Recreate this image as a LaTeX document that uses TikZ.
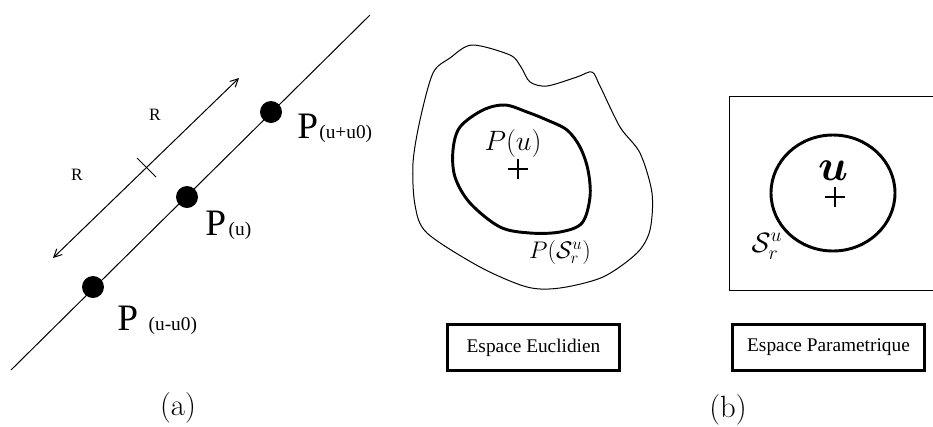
\RequirePackage{fix-cm}
\documentclass[tikz,border=0pt]{standalone}
\usepackage{fontspec}
\usepackage{bm}
\usetikzlibrary{arrows.meta,shapes.geometric}
\newfontfamily\tms{Liberation Serif}
\begin{document}
\begin{tikzpicture}[x=0.75pt,y=-0.75pt,
  thinline/.style={line width=0.75pt},
  thickline/.style={line width=2.2pt},
  dotnode/.style={circle,fill=black,minimum size=16.5pt,inner sep=0pt},
  plabel/.style={inner sep=0pt,anchor=base west,font=\tms\fontsize{28}{30}\selectfont},
  rlabel/.style={inner sep=0pt,font=\tms\fontsize{13}{14}\selectfont},
  espbox/.style={draw,line width=2.2pt,minimum width=129pt,minimum height=34pt,inner sep=0pt,font=\tms\fontsize{14.5}{16}\selectfont},
  caption/.style={inner sep=0pt,font=\fontsize{23}{25}\selectfont},
  arr/.style={thinline,{Straight Barb[length=6pt,width=6pt]}-{Straight Barb[length=6pt,width=6pt]}}]
\useasboundingbox (0,0) rectangle (933,426);

% ---------- (a) ----------
\coordinate (ls) at (11,370);
\coordinate (le) at (370,15);
\draw[thinline] (ls) -- (le);
\node[dotnode] (d1) at (271,112) {};
\node[dotnode] (d2) at (187,197) {};
\node[dotnode] (d3) at (93,287) {};

\coordinate (as) at (53,258);
\coordinate (ae) at (239,78);
\draw[arr] (as) -- (ae);
\coordinate (t1) at (137,158);
\coordinate (t2) at (156,177);
\draw[thinline] (t1) -- (t2);
\node[rlabel] (r1) at (155,115) {R};
\node[rlabel] (r2) at (77,175) {R};

\node[plabel] (p1) at (297,138) {P\kern1pt{\fontsize{14.5}{16}\selectfont(u+u0)}};
\node[plabel] (p2) at (205,235) {P\kern2pt{\fontsize{14.5}{16}\selectfont(u)}};
\node[plabel] (p3) at (117,330) {P\kern8pt{\fontsize{14.5}{16}\selectfont(u-u0)}};

\node[caption] (ca) at (178,408) {(a)};

% ---------- (b) left: euclidean space ----------
\draw[thinline] plot[smooth cycle,tension=0.5] coordinates {
  (472,45) (510,55) (521,67) (530,82) (547,86) (577,77) (592,72) (600,86)
  (620,127) (640,153) (652,193) (650,230) (637,253) (603,277) (560,288)
  (527,287) (480,267) (427,233) (415,205) (413,163) (420,120) (433,73) (450,58)};
\draw[thickline] plot[smooth cycle,tension=0.55] coordinates {
  (505,105) (483,110) (460,127) (453,150) (455,177) (470,203) (500,227)
  (530,233) (560,232) (582,223) (590,197) (588,170) (580,147) (567,130)
  (547,120) (527,112)};
\node[inner sep=0pt,font=\fontsize{21}{23}\selectfont] (pu) at (513,143) {$P(u)$};
\coordinate (pc) at (518,169);
\draw[line width=1.6pt] ([xshift=-7.5pt]pc) -- ([xshift=7.5pt]pc)
  ([yshift=-7.5pt]pc) -- ([yshift=7.5pt]pc);
\node[inner sep=0pt,font=\fontsize{18}{20}\selectfont] (ps) at (560,252) {$P(\mathcal{S}_r^u)$};

% ---------- (b) right: parametric space ----------
\coordinate (b1) at (934,96);
\coordinate (b2) at (729,96);
\coordinate (b3) at (729,290);
\coordinate (b4) at (934,290);
\draw[thinline] (b1) -- (b2) -- (b3) -- (b4);
\node[draw,thickline,ellipse,minimum width=93pt,minimum height=87pt,inner sep=0pt] (circ) at (833,193) {};
\node[inner sep=0pt,font=\fontsize{33}{35}\selectfont] (uu) at (833,171) {$\bm{u}$};
\coordinate (qc) at (835,197);
\draw[line width=1.6pt] ([xshift=-7.5pt]qc) -- ([xshift=7.5pt]qc)
  ([yshift=-7.5pt]qc) -- ([yshift=7.5pt]qc);
\node[inner sep=0pt,font=\fontsize{21}{23}\selectfont] (sr) at (767,246) {$\mathcal{S}_r^u$};

% ---------- boxes ----------
\node[espbox] (eu) at (533.5,347.5) {Espace Euclidien};
\node[espbox,minimum width=144pt] (pa) at (828.5,347.5) {Espace Parametrique};
\node[caption] (cb) at (728,410) {(b)};
\end{tikzpicture}
\end{document}
